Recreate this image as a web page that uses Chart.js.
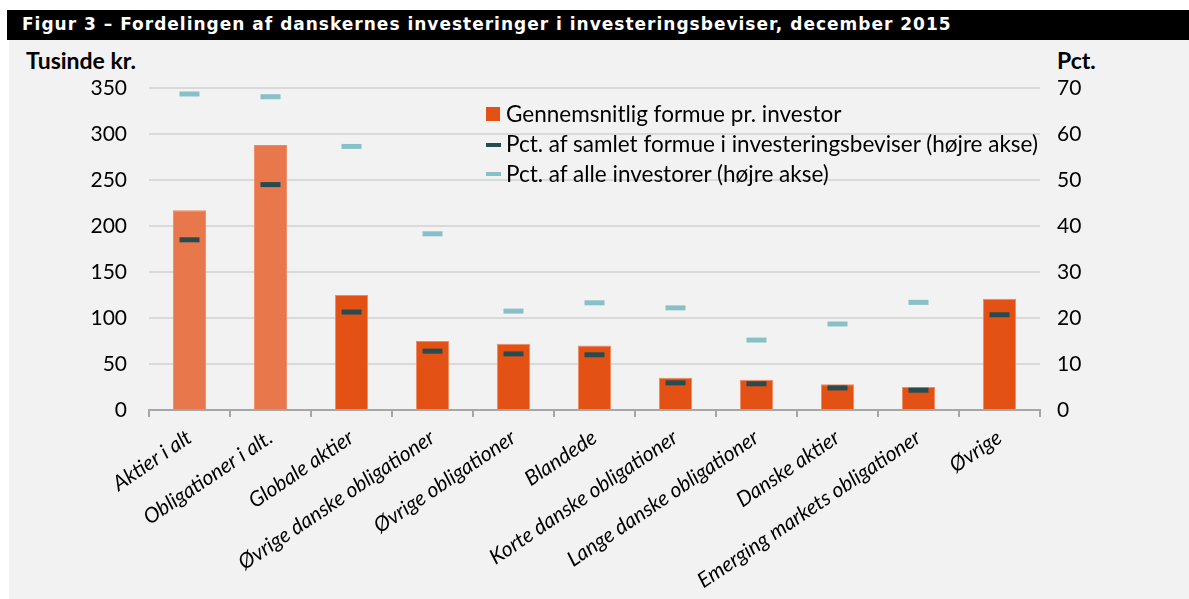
<!DOCTYPE html>
<html>
<head>
<meta charset="utf-8">
<script src="https://cdn.jsdelivr.net/npm/chart.js@4/dist/chart.umd.min.js"></script>
<style>
    body { margin: 0; background: #fff; width: 1189px; height: 599px; overflow: hidden; position: relative; }
    #bar { position: absolute; left: 7px; top: 10px; width: 1182px; height: 30px; background: #000; }
    #title { position: absolute; left: 22px; top: 14px; color: #fff; font: bold 17px "DejaVu Sans"; letter-spacing: 1px; white-space: nowrap; }
    #panel { position: absolute; left: 9px; top: 40px; width: 1180px; height: 559px; background: #f2f2f2; }
    .axisTitle { position: absolute; top: 46px; font: bold 23px Lato; color: #000; }
    #chartBox { position: absolute; left: 0; top: 0; width: 1189px; height: 599px; }
    #legend { position: absolute; left: 486px; top: 99px; font: 22.5px Lato; color: #000; }
    .row { position: relative; height: 30px; line-height: 30px; padding-left: 20px; white-space: nowrap; }
    .sw { position: absolute; left: 0; }
</style>
</head>
<body>
<div id="bar"></div>
<div id="title">Figur 3 – Fordelingen af danskernes investeringer i investeringsbeviser, december 2015</div>
<div id="panel"></div>
<div class="axisTitle" style="left:26px">Tusinde kr.</div>
<div class="axisTitle" style="left:1057px">Pct.</div>
<div id="chartBox"><canvas id="chart" width="1189" height="599"></canvas></div>
<div id="legend">
    <div class="row"><span class="sw" style="top:8px;width:14px;height:14px;background:#e35214"></span>Gennemsnitlig formue pr. investor</div>
    <div class="row"><span class="sw" style="top:14px;width:15px;height:4px;background:#264b51"></span>Pct. af samlet formue i investeringsbeviser (højre akse)</div>
    <div class="row"><span class="sw" style="top:13px;width:15px;height:4px;background:#88c0c8"></span>Pct. af alle investorer (højre akse)</div>
</div>
<script>
const categories = ['Aktier i alt', 'Obligationer i alt.', 'Globale aktier', 'Øvrige danske obligationer',
    'Øvrige obligationer', 'Blandede', 'Korte danske obligationer', 'Lange danske obligationer',
    'Danske aktier', 'Emerging markets obligationer', 'Øvrige'];
const avgWealth = [217, 288, 125, 75, 72, 70, 35, 33, 28, 25, 121];
const pctOfWealth = [37, 49, 21.3, 12.8, 12.2, 12, 5.9, 5.7, 4.8, 4.3, 20.7];
const pctOfInvestors = [68.7, 68.1, 57.3, 38.3, 21.5, 23.3, 22.2, 15.2, 18.7, 23.4, null];
const leftTicks = [0, 50, 100, 150, 200, 250, 300, 350];
const rightTicks = [0, 10, 20, 30, 40, 50, 60, 70];

const barColors = categories.map((c, i) => i < 2 ? '#e8784b' : '#e35214');

Chart.defaults.font.family = 'Lato';
Chart.defaults.color = '#000';

const ctx = document.getElementById('chart').getContext('2d');
let myChart = new Chart(ctx, {
    type: 'bar',
    data: {
        labels: categories,
        datasets: [{
            label: 'Gennemsnitlig formue pr. investor',
            data: avgWealth,
            backgroundColor: barColors,
            borderColor: '#ec8a62',
            borderWidth: 1,
            categoryPercentage: 1,
            barPercentage: 0.41,
            yAxisID: 'y',
            order: 2,
        }, {
            type: 'line',
            label: 'Pct. af samlet formue i investeringsbeviser (højre akse)',
            data: pctOfWealth,
            showLine: false,
            pointStyle: 'line',
            pointRadius: 10,
            pointHoverRadius: 10,
            borderWidth: 5,
            pointBorderWidth: 5,
            borderColor: '#264b51',
            yAxisID: 'y1',
            order: 0,
        }, {
            type: 'line',
            label: 'Pct. af alle investorer (højre akse)',
            data: pctOfInvestors,
            showLine: false,
            pointStyle: 'line',
            pointRadius: 10,
            pointHoverRadius: 10,
            borderWidth: 5,
            pointBorderWidth: 5,
            borderColor: '#88c0c8',
            yAxisID: 'y1',
            order: 1,
        }]
    },
    options: {
        responsive: false,
        animation: false,
        layout: { padding: { top: 88, left: 0, right: 0, bottom: 0 } },
        plugins: { legend: { display: false }, tooltip: { enabled: false } },
        scales: {
            x: {
                grid: { offset: true, drawOnChartArea: false, drawTicks: true, tickLength: 7, color: '#a6a6a6', lineWidth: 2 },
                border: { color: '#a6a6a6', width: 2 },
                ticks: { font: { size: 21, style: 'italic' }, minRotation: 34, maxRotation: 34, padding: 8, autoSkip: false },
                afterFit: (scale) => { scale.height = 189; },
            },
            y: {
                position: 'left',
                min: 0, max: 350,
                afterBuildTicks: (scale) => { scale.ticks = leftTicks.map(v => ({ value: v })); },
                grid: { color: '#d9d9d9', lineWidth: 2, drawTicks: false },
                border: { display: false },
                ticks: { font: { size: 21 }, padding: 22 },
                afterFit: (scale) => { scale.width = 149; },
            },
            y1: {
                position: 'right',
                min: 0, max: 70,
                afterBuildTicks: (scale) => { scale.ticks = rightTicks.map(v => ({ value: v })); },
                grid: { display: false, drawTicks: false },
                border: { display: false },
                ticks: { font: { size: 21 }, padding: 17 },
                afterFit: (scale) => { scale.width = 149; },
            }
        }
    }
});
</script>
</body>
</html>
